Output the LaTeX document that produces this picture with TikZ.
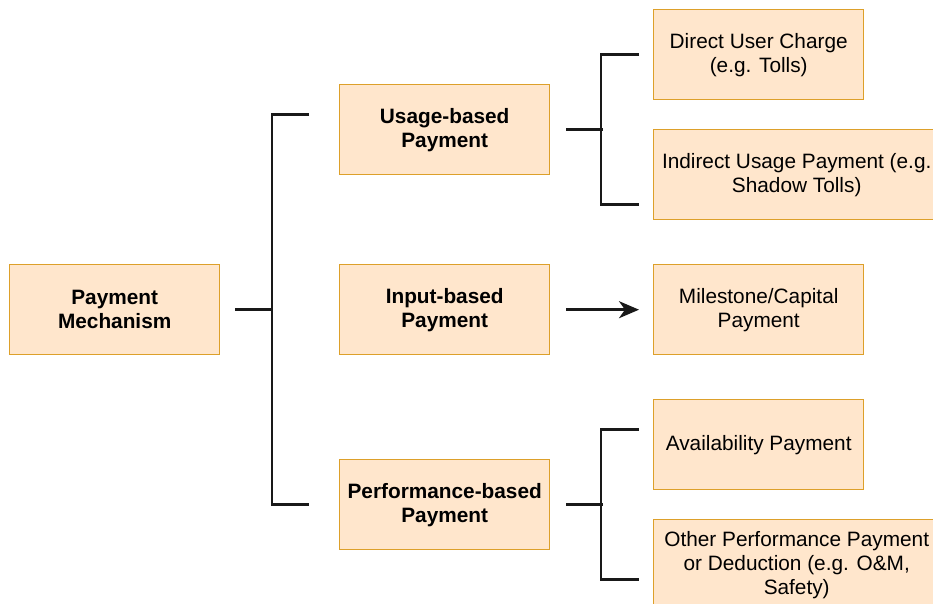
\documentclass[tikz,border=0pt]{standalone}
\usepackage{fontspec}
\setmainfont{Liberation Sans}
\usetikzlibrary{arrows.meta,calc}
\definecolor{boxfill}{HTML}{FFE6CC}
\definecolor{boxline}{HTML}{DDA02A}
\begin{document}
\begin{tikzpicture}[x=1pt,y=-1pt,
  item/.style={draw=boxline,fill=boxfill,line width=1.4pt,
    minimum width=210pt,minimum height=90pt,anchor=north west,
    align=center,inner sep=0pt,font=\fontsize{20.8}{24}\selectfont},
  head/.style={item,font=\fontsize{20.8}{24}\selectfont\bfseries},
  wide/.style={item,minimum width=286pt},
  link/.style={line width=2.6pt,black!90}]
\useasboundingbox (0,0) rectangle (933,604);
\clip (0,0) rectangle (933,604);
% first level
\node[head] (pm) at (9,264) {Payment\\Mechanism};
% second level
\node[head] (ub) at (339,84) {Usage-based\\Payment};
\node[head] (ib) at (339,264) {Input-based\\Payment};
\node[head] (pb) at (339,459) {Performance-based\\Payment};
% third level
\node[item] (du) at (653,9) {Direct User Charge\\(e.g. Tolls)};
\node[wide] (iu) at (653,129) {Indirect Usage Payment (e.g.\\Shadow Tolls)};
\node[item] (ms) at (653,264) {Milestone/Capital\\Payment};
\node[item] (av) at (653,399) {Availability Payment};
\node[wide] (op) at (653,519) {Other Performance Payment\\or Deduction (e.g. O\&M,\\Safety)};
% bracket joining the first level to the second
\coordinate (m0) at ($(pm.east)+(15,0)$);
\coordinate (mt) at ($(ub.west)+(-30,-15)$);
\coordinate (mb) at ($(pb.west)+(-30,0)$);
\draw[link] (m0) -- ++(38,0);
\draw[link,line join=miter] (mt) -- ++(-37,0) |- (mb);
% bracket for usage-based payment
\coordinate (u0) at ($(ub.east)+(16,0)$);
\coordinate (ut) at ($(du.west)+(-14,0)$);
\coordinate (ubt) at ($(iu.west)+(-14,30)$);
\draw[link] (u0) -- ++(37,0);
\draw[link,line join=miter] (ut) -- ++(-38,0) |- (ubt);
% arrow for input-based payment
\draw[link,-{Stealth[length=20pt,width=17pt,inset=6pt]}] ($(ib.east)+(16,0)$) -- ($(ms.west)+(-14,0)$);
% bracket for performance-based payment
\coordinate (p0) at ($(pb.east)+(16,0)$);
\coordinate (pt) at ($(av.west)+(-14,-15)$);
\coordinate (pbt) at ($(op.west)+(-14,15)$);
\draw[link] (p0) -- ++(37,0);
\draw[link,line join=miter] (pt) -- ++(-38,0) |- (pbt);
\end{tikzpicture}
\end{document}
